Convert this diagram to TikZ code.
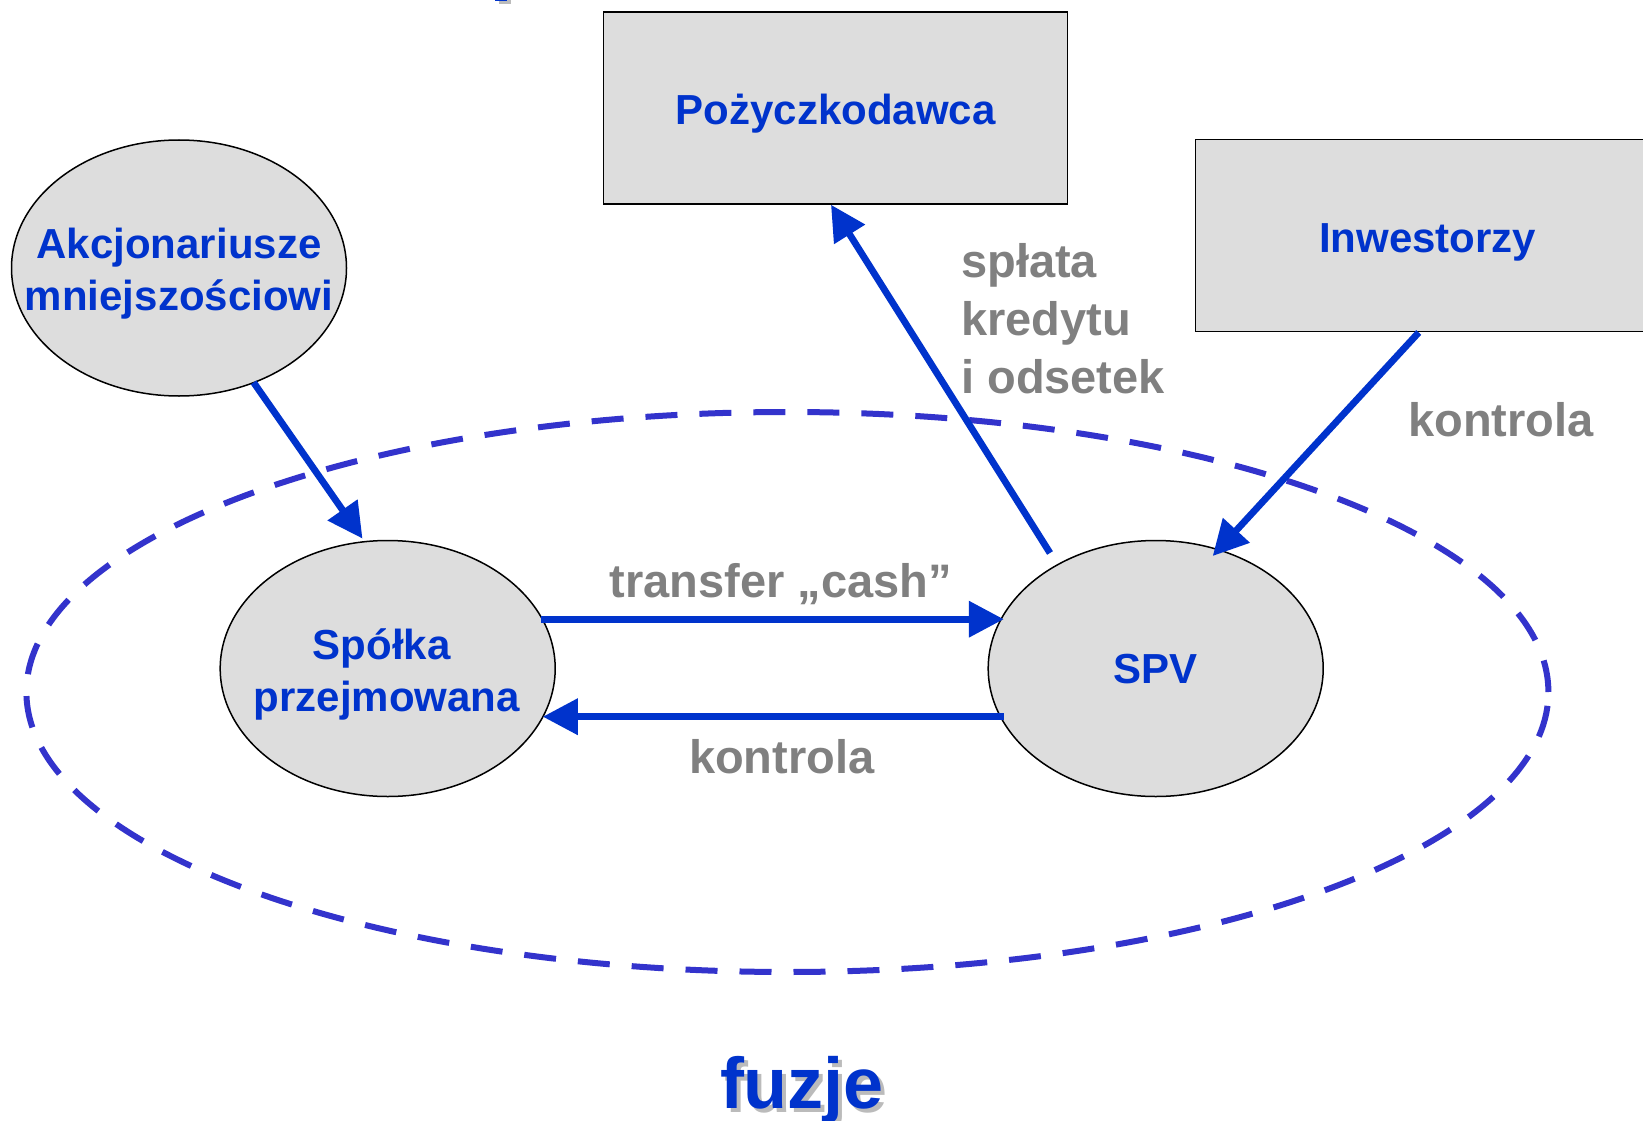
\documentclass[tikz,border=0pt]{standalone}
\usepackage{fontspec}
\setmainfont{Liberation Sans}
\usetikzlibrary{arrows.meta,shapes.geometric}
\definecolor{txtblue}{HTML}{0033CC}
\definecolor{dashblue}{HTML}{3333CC}
\definecolor{labelgray}{HTML}{808080}
\definecolor{shadowgray}{HTML}{BBBBBB}
\definecolor{boxfill}{HTML}{DDDDDD}

\begin{document}
\begin{tikzpicture}[x=1pt,y=-1pt,
  party/.style={ellipse, draw=black, line width=1.5pt, fill=boxfill,
    minimum width=335pt, minimum height=256pt, inner sep=0pt},
  lender/.style={rectangle, draw=black, line width=1.5pt, fill=boxfill,
    minimum width=464pt, minimum height=192pt, inner sep=0pt},
  partytext/.style={inner sep=0pt, align=center, text=txtblue,
    font=\fontsize{42}{52}\selectfont\bfseries},
  flow/.style={draw=txtblue, line width=6.8pt, -{Triangle[length=35pt,width=35pt]}},
  note/.style={text=labelgray, font=\fontsize{47}{57}\selectfont\bfseries, inner sep=0pt},
  merge/.style={ellipse, draw=dashblue, line width=6pt, dash pattern=on 32pt off 22pt,
    minimum width=1522pt, minimum height=560pt, inner sep=0pt}
]
\useasboundingbox[fill=white] (0,0) rectangle (1643,1121);

% remnant of a heading cut by the upper edge
\fill[shadowgray] (499,0) rectangle (511,4);
\fill[txtblue] (495,-2) rectangle (507,1.5);

% the merged group
\node[merge] (merger) at (787.4,692) {};

% parties
\node[lender] (poz) at (835.6,108) {};
\node[lender] (inw) at (1427.7,235.7) {};
\node[party] (akc) at (179,268) {};
\node[party] (spolka) at (387.7,668.5) {};
\node[party] (spv) at (1155.7,668.5) {};

\node[partytext, yshift=-5.2pt] (pozT) at (poz) {Pożyczkodawca};
\node[partytext, yshift=-6.3pt] (inwT) at (inw) {Inwestorzy};
\node[partytext, yshift=-5.5pt] (akcT) at (akc) {Akcjonariusze\\mniejszościowi};
\node[partytext, yshift=-5.5pt, xshift=-1pt] (spolkaT) at (spolka) {Spółka\hspace*{10pt}\\przejmowana};
\node[partytext, yshift=-1pt] (spvT) at (spv) {SPV};

% flows
\draw[flow] ([shift={(74.6,114.4)}]akc.center) -- ([shift={(-25.2,-129.9)}]spolka.center);
\draw[flow] ([shift={(153,-49.3)}]spolka.center) -- ([shift={(-151.9,-49.3)}]spv.center);
\draw[flow] ([shift={(-151.9,48.2)}]spv.center) -- ([shift={(155.1,48.2)}]spolka.center);
\draw[flow] ([shift={(-105.7,-115.5)}]spv.center) -- ([xshift=-4.6pt]poz.south);
\draw[flow] ([xshift=-9pt]inw.south) -- ([shift={(57,-112.5)}]spv.center);

% flow labels
\node[note, anchor=base] (cash) at (781,597) {transfer „cash”};
\node[note, anchor=base] (ctrlb) at (781.7,773) {kontrola};
\node[note, anchor=base west] (ctrlr) at (1408,436.7) {kontrola};
\node[note, anchor=base west] (rep1) at (961,277) {spłata};
\node[note, anchor=base west] (rep2) at (961,335) {kredytu};
\node[note, anchor=base west] (rep3) at (961,393) {i odsetek};

% caption with drop shadow
\node[text=shadowgray, font=\fontsize{72}{86}\selectfont\bfseries, anchor=base] (capshadow) at (806,1112) {fuzje};
\node[text=txtblue, font=\fontsize{72}{86}\selectfont\bfseries, anchor=base] (caption) at (802,1108) {fuzje};
\end{tikzpicture}
\end{document}
